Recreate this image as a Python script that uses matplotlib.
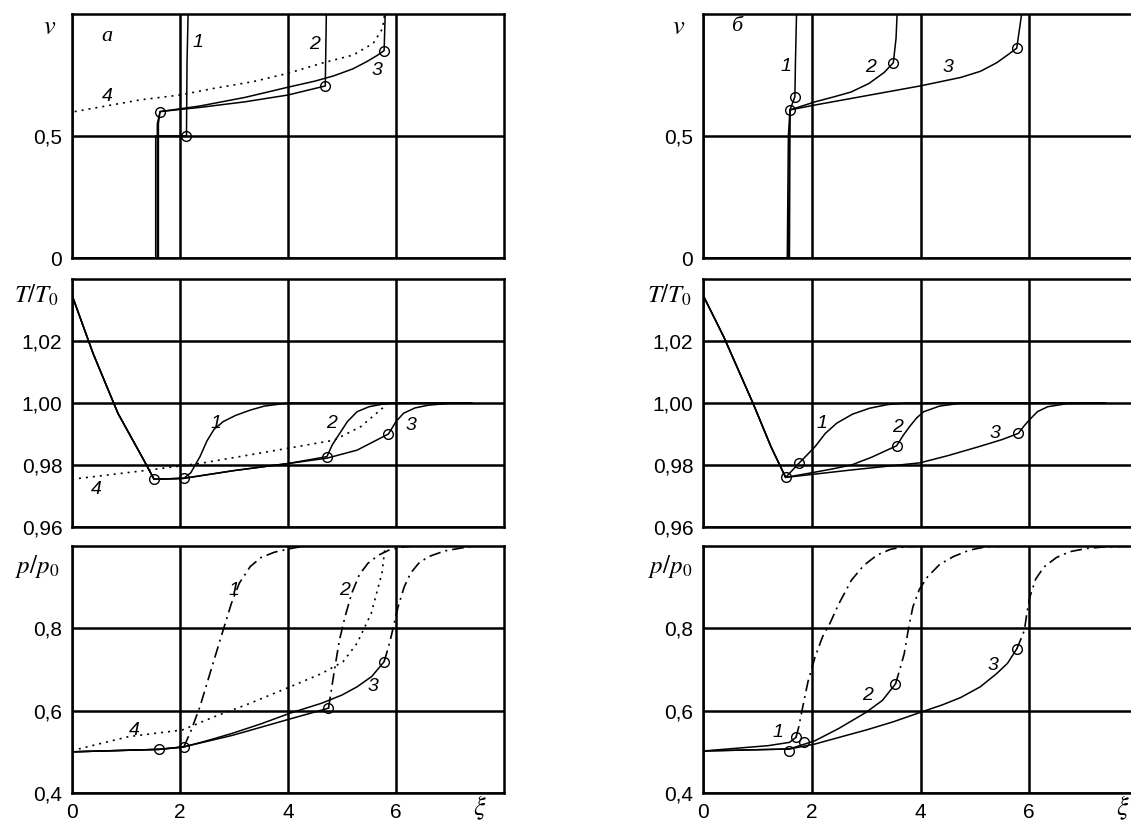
import matplotlib
matplotlib.use("Agg")
import matplotlib.pyplot as plt

plt.rcParams["font.family"] = ["Liberation Sans", "DejaVu Sans"]
plt.rcParams["mathtext.fontset"] = "stix"

# ---- panel a (left column) ----
# velocity v
va1_x = [0, 1.55, 1.55, 2.12, 2.13, 2.15]
va1_y = [0, 0, 0.5, 0.5, 0.8, 1.0]
va2_x = [0, 1.58, 1.58, 1.63, 2.4, 3.2, 4.0, 4.69, 4.71]
va2_y = [0, 0, 0.55, 0.60, 0.618, 0.64, 0.668, 0.705, 1.0]
va3_x = [0, 1.6, 1.6, 1.63, 2.37, 3.2, 4.0, 4.5, 4.84, 5.2, 5.46, 5.65, 5.78, 5.8]
va3_y = [0, 0, 0.55, 0.60, 0.623, 0.658, 0.70, 0.725, 0.746, 0.775, 0.805, 0.83, 0.85, 1.0]
va4_x = [0.05, 1.26, 2.0, 2.62, 3.36, 4.0, 4.65, 5.21, 5.58, 5.75, 5.79]
va4_y = [0.60, 0.648, 0.668, 0.695, 0.723, 0.757, 0.80, 0.832, 0.88, 0.94, 1.0]
va_mx = [1.63, 2.12, 4.69, 5.78]
va_my = [0.60, 0.50, 0.705, 0.85]

# temperature T/T0
Ta1_x = [0, 0.39, 0.85, 1.31, 1.52, 2.07, 2.2, 2.37, 2.5, 2.63, 2.8, 3.03, 3.3, 3.56, 4.0, 7.4]
Ta1_y = [1.0348, 1.016, 0.9967, 0.9822, 0.9754, 0.9757, 0.9775, 0.9827, 0.9878, 0.9915,
         0.9940, 0.9960, 0.9977, 0.9990, 1.0, 1.0]
Ta2_x = [0, 0.39, 0.85, 1.31, 1.52, 2.07, 3.0, 4.01, 4.72, 4.82, 4.95, 5.1, 5.28, 5.5, 5.74, 6.0, 7.4]
Ta2_y = [1.0348, 1.016, 0.9967, 0.9822, 0.9754, 0.9757, 0.9782, 0.9805, 0.9827, 0.9865,
         0.990, 0.9940, 0.9972, 0.9988, 0.9996, 1.0, 1.0]
Ta3_x = [0, 0.39, 0.85, 1.31, 1.52, 2.07, 3.0, 4.01, 4.72, 5.28, 5.86, 6.0, 6.14, 6.35, 6.6, 7.0, 7.4]
Ta3_y = [1.0348, 1.016, 0.9967, 0.9822, 0.9754, 0.9757, 0.9782, 0.9805, 0.9822, 0.9848,
         0.990, 0.9940, 0.9967, 0.9984, 0.9993, 0.9999, 1.0]
Ta4_x = [0, 1.44, 2.37, 4.0, 4.85, 5.35, 5.78, 5.82]
Ta4_y = [0.9754, 0.9784, 0.9805, 0.9854, 0.988, 0.9924, 0.9988, 1.0]
Ta_mx = [1.52, 2.07, 4.72, 5.86]
Ta_my = [0.9754, 0.9757, 0.9827, 0.990]

# pressure p/p0 (solid part, then dash-dot part)
pa1_x = [0, 1.61, 2.07]
pa1_y = [0.50, 0.506, 0.512]
pa1d_x = [2.07, 2.2, 2.37, 2.6, 2.8, 2.95, 3.1, 3.3, 3.5, 3.75, 4.02, 4.3]
pa1d_y = [0.512, 0.55, 0.61, 0.71, 0.796, 0.86, 0.91, 0.95, 0.972, 0.985, 0.993, 1.0]
pa2_x = [0, 1.61, 2.07, 2.97, 4.04, 4.75]
pa2_y = [0.50, 0.506, 0.512, 0.54, 0.58, 0.606]
pa2d_x = [4.75, 4.85, 4.95, 5.06, 5.18, 5.32, 5.48, 5.68, 5.87, 6.1, 6.3]
pa2d_y = [0.606, 0.69, 0.77, 0.83, 0.885, 0.93, 0.958, 0.978, 0.99, 0.997, 1.0]
pa3_x = [0, 1.61, 2.07, 2.5, 2.97, 3.5, 4.04, 4.62, 5.0, 5.28, 5.55, 5.78]
pa3_y = [0.50, 0.506, 0.512, 0.527, 0.545, 0.568, 0.594, 0.618, 0.638, 0.658, 0.683, 0.719]
pa3d_x = [5.78, 5.85, 5.91, 5.98, 6.04, 6.15, 6.27, 6.42, 6.6, 6.9, 7.2, 7.5]
pa3d_y = [0.719, 0.75, 0.78, 0.82, 0.853, 0.90, 0.934, 0.958, 0.974, 0.988, 0.995, 1.0]
pa4_x = [0, 1.05, 2.04, 2.63, 3.3, 4.04, 4.62, 5.02, 5.28, 5.54, 5.74, 5.8]
pa4_y = [0.503, 0.537, 0.553, 0.585, 0.618, 0.658, 0.69, 0.719, 0.764, 0.836, 0.934, 1.0]
pa_mx = [1.61, 2.07, 4.75, 5.78]
pa_my = [0.506, 0.512, 0.606, 0.719]

# ---- panel б (right column) ----
vb1_x = [0, 1.55, 1.57, 1.6, 1.69, 1.70, 1.72]
vb1_y = [0, 0, 0.5, 0.607, 0.661, 0.8, 1.0]
vb2_x = [0, 1.57, 1.59, 1.6, 2.06, 2.4, 2.72, 3.05, 3.33, 3.5, 3.55, 3.57]
vb2_y = [0, 0, 0.5, 0.607, 0.64, 0.66, 0.68, 0.715, 0.76, 0.80, 0.9, 1.0]
vb3_x = [0, 1.59, 1.6, 2.06, 3.0, 3.99, 4.74, 5.1, 5.4, 5.62, 5.77, 5.86]
vb3_y = [0, 0, 0.607, 0.627, 0.665, 0.705, 0.74, 0.765, 0.80, 0.835, 0.86, 1.0]
vb_mx = [1.6, 1.69, 3.5, 5.77]
vb_my = [0.607, 0.661, 0.80, 0.86]

Tb1_x = [0, 0.38, 0.92, 1.25, 1.52, 1.76, 1.9, 2.06, 2.25, 2.46, 2.75, 3.06, 3.4, 3.73, 7.4]
Tb1_y = [1.0348, 1.0214, 0.9999, 0.9859, 0.976, 0.9805, 0.9830, 0.9859, 0.9902, 0.9935,
         0.9964, 0.9983, 0.9995, 1.0, 1.0]
Tb2_x = [0, 0.38, 0.92, 1.25, 1.52, 2.0, 2.4, 2.73, 3.1, 3.56, 3.68, 3.8, 3.93, 4.06, 4.35, 4.77, 7.4]
Tb2_y = [1.0348, 1.0214, 0.9999, 0.9859, 0.976, 0.9775, 0.9788, 0.980, 0.9825, 0.9862,
         0.9895, 0.9924, 0.9952, 0.9972, 0.9990, 1.0, 1.0]
Tb3_x = [0, 0.38, 0.92, 1.25, 1.52, 2.73, 3.99, 4.5, 5.07, 5.5, 5.8, 5.9, 6.0, 6.15, 6.34, 6.7, 7.4]
Tb3_y = [1.0348, 1.0214, 0.9999, 0.9859, 0.976, 0.9784, 0.9807, 0.983, 0.9859, 0.9882,
         0.9902, 0.9925, 0.9945, 0.9972, 0.9988, 0.9998, 1.0]
Tb_mx = [1.52, 1.76, 3.56, 5.8]
Tb_my = [0.976, 0.9805, 0.9862, 0.9902]

pb1_x = [0, 1.2, 1.59, 1.71]
pb1_y = [0.502, 0.515, 0.523, 0.535]
pb1d_x = [1.71, 1.76, 1.82, 1.93, 2.06, 2.2, 2.33, 2.5, 2.73, 2.95, 3.2, 3.45, 3.7, 4.0]
pb1d_y = [0.535, 0.56, 0.60, 0.67, 0.73, 0.78, 0.811, 0.86, 0.917, 0.952, 0.978, 0.992, 0.998, 1.0]
pb2_x = [0, 1.59, 2.06, 2.5, 3.0, 3.3, 3.54]
pb2_y = [0.502, 0.507, 0.527, 0.557, 0.596, 0.625, 0.665]
pb2d_x = [3.54, 3.62, 3.7, 3.78, 3.86, 3.98, 4.13, 4.35, 4.6, 4.9, 5.2, 5.6]
pb2d_y = [0.665, 0.70, 0.738, 0.80, 0.852, 0.895, 0.925, 0.955, 0.974, 0.99, 0.998, 1.0]
pb3_x = [0, 1.59, 2.06, 2.5, 3.0, 3.5, 4.0, 4.4, 4.74, 5.1, 5.4, 5.6, 5.77]
pb3_y = [0.502, 0.507, 0.519, 0.535, 0.553, 0.573, 0.596, 0.614, 0.632, 0.658, 0.69, 0.715, 0.75]
pb3d_x = [5.77, 5.85, 5.91, 5.96, 6.01, 6.12, 6.27, 6.5, 6.74, 7.05, 7.4, 8.0]
pb3d_y = [0.75, 0.775, 0.795, 0.84, 0.876, 0.92, 0.949, 0.972, 0.986, 0.994, 0.998, 1.0]
pb_mx = [1.59, 1.71, 1.86, 3.54, 5.77]
pb_my = [0.502, 0.535, 0.523, 0.665, 0.75]

x_ticks = [0, 2, 4, 6]
x_ticklabels = ["0", "2", "4", "6"]
v_ticks = [0, 0.5]
v_ticklabels = ["0", "0,5"]
T_ticks = [0.96, 0.98, 1.00, 1.02]
T_ticklabels = ["0,96", "0,98", "1,00", "1,02"]
p_ticks = [0.4, 0.6, 0.8]
p_ticklabels = ["0,4", "0,6", "0,8"]

W, H = 1131, 823
fig = plt.figure(figsize=(W / 100, H / 100), dpi=100)


def make_ax(x0, x1, ytop, ybot):
    return fig.add_axes([x0 / W, 1 - ybot / H, (x1 - x0) / W, (ybot - ytop) / H])


SOLID = dict(color="black", lw=1.1, zorder=3)
DASHDOT = dict(color="black", lw=1.2, ls=(0, (7, 3, 1.2, 3)), zorder=3)
DOTTED = dict(color="black", lw=1.2, ls=(0, (1.2, 3)), zorder=3)
MARK = dict(ls="none", marker="o", ms=7, mfc="none", mec="black", mew=1.0, zorder=4)
NUM = dict(fontsize=14, style="italic", ha="center", va="center")


def style(ax, yt, ytl, ylim, bottom):
    ax.set_xlim(0, 8)
    ax.set_ylim(*ylim)
    ax.set_xticks(x_ticks)
    ax.set_yticks(yt)
    ax.set_yticklabels(ytl)
    if bottom:
        ax.set_xticklabels(x_ticklabels)
    else:
        ax.set_xticklabels([])
    ax.tick_params(length=0, labelsize=15, pad=7)
    ax.grid(True, color="black", lw=1.8, zorder=1)
    ax.set_axisbelow(True)
    for s in ax.spines.values():
        s.set_linewidth(1.8)


cols = [(72, 504), (703, 1138)]
rows = [(14, 258), (279, 527), (546, 793)]

# ---------- column a ----------
ax = make_ax(*cols[0], *rows[0])
style(ax, v_ticks, v_ticklabels, (0, 1), False)
ax.plot(va1_x, va1_y, **SOLID)
ax.plot(va2_x, va2_y, **SOLID)
ax.plot(va3_x, va3_y, **SOLID)
ax.plot(va4_x, va4_y, **DOTTED)
ax.plot(va_mx, va_my, **MARK)
ax.text(0.65, 0.906, "а", fontsize=16, style="italic", family=["Liberation Serif"], ha="center", va="center")
ax.text(2.33, 0.885, "1", **NUM)
ax.text(4.5, 0.873, "2", **NUM)
ax.text(5.65, 0.77, "3", **NUM)
ax.text(0.65, 0.66, "4", **NUM)
ax.text(-0.051, 0.947, r"$v$", transform=ax.transAxes, fontsize=19, ha="center", va="center")

ax = make_ax(*cols[0], *rows[1])
style(ax, T_ticks, T_ticklabels, (0.96, 1.04), False)
ax.plot(Ta1_x, Ta1_y, **SOLID)
ax.plot(Ta2_x, Ta2_y, **SOLID)
ax.plot(Ta3_x, Ta3_y, **SOLID)
ax.plot(Ta4_x, Ta4_y, **DOTTED)
ax.plot(Ta_mx, Ta_my, **MARK)
ax.text(2.67, 0.9935, "1", **NUM)
ax.text(4.81, 0.9935, "2", **NUM)
ax.text(6.27, 0.9929, "3", **NUM)
ax.text(0.45, 0.972, "4", **NUM)
ax.text(-0.083, 0.935, r"$T/T_0$", transform=ax.transAxes, fontsize=18, ha="center", va="center")

ax = make_ax(*cols[0], *rows[2])
style(ax, p_ticks, p_ticklabels, (0.4, 1.0), True)
ax.plot(pa1_x, pa1_y, **SOLID)
ax.plot(pa1d_x, pa1d_y, **DASHDOT)
ax.plot(pa2_x, pa2_y, **SOLID)
ax.plot(pa2d_x, pa2d_y, **DASHDOT)
ax.plot(pa3_x, pa3_y, **SOLID)
ax.plot(pa3d_x, pa3d_y, **DASHDOT)
ax.plot(pa4_x, pa4_y, **DOTTED)
ax.plot(pa_mx, pa_my, **MARK)
ax.text(3.0, 0.893, "1", **NUM)
ax.text(5.05, 0.893, "2", **NUM)
ax.text(5.57, 0.658, "3", **NUM)
ax.text(1.15, 0.553, "4", **NUM)
ax.text(-0.081, 0.915, r"$p/p_0$", transform=ax.transAxes, fontsize=18, ha="center", va="center")
ax.text(7.55, -0.058, r"$\xi$", transform=ax.get_xaxis_transform(), fontsize=19, ha="center", va="center")

# ---------- column б ----------
ax = make_ax(*cols[1], *rows[0])
style(ax, v_ticks, v_ticklabels, (0, 1), False)
ax.plot(vb1_x, vb1_y, **SOLID)
ax.plot(vb2_x, vb2_y, **SOLID)
ax.plot(vb3_x, vb3_y, **SOLID)
ax.plot(vb_mx, vb_my, **MARK)
ax.text(0.62, 0.948, "б", fontsize=16, style="italic", family=["Liberation Serif"], ha="center", va="center")
ax.text(1.53, 0.784, "1", **NUM)
ax.text(3.09, 0.779, "2", **NUM)
ax.text(4.5, 0.779, "3", **NUM)
ax.text(-0.055, 0.947, r"$v$", transform=ax.transAxes, fontsize=19, ha="center", va="center")

ax = make_ax(*cols[1], *rows[1])
style(ax, T_ticks, T_ticklabels, (0.96, 1.04), False)
ax.plot(Tb1_x, Tb1_y, **SOLID)
ax.plot(Tb2_x, Tb2_y, **SOLID)
ax.plot(Tb3_x, Tb3_y, **SOLID)
ax.plot(Tb_mx, Tb_my, **MARK)
ax.text(2.19, 0.9935, "1", **NUM)
ax.text(3.57, 0.992, "2", **NUM)
ax.text(5.37, 0.990, "3", **NUM)
ax.text(-0.076, 0.935, r"$T/T_0$", transform=ax.transAxes, fontsize=18, ha="center", va="center")

ax = make_ax(*cols[1], *rows[2])
style(ax, p_ticks, p_ticklabels, (0.4, 1.0), True)
ax.plot(pb1_x, pb1_y, **SOLID)
ax.plot(pb1d_x, pb1d_y, **DASHDOT)
ax.plot(pb2_x, pb2_y, **SOLID)
ax.plot(pb2d_x, pb2d_y, **DASHDOT)
ax.plot(pb3_x, pb3_y, **SOLID)
ax.plot(pb3d_x, pb3d_y, **DASHDOT)
ax.plot(pb_mx, pb_my, **MARK)
ax.text(1.375, 0.547, "1", **NUM)
ax.text(3.03, 0.637, "2", **NUM)
ax.text(5.33, 0.71, "3", **NUM)
ax.text(-0.076, 0.915, r"$p/p_0$", transform=ax.transAxes, fontsize=18, ha="center", va="center")
ax.text(7.72, -0.058, r"$\xi$", transform=ax.get_xaxis_transform(), fontsize=19, ha="center", va="center")

fig.savefig("out.png", dpi=100)
